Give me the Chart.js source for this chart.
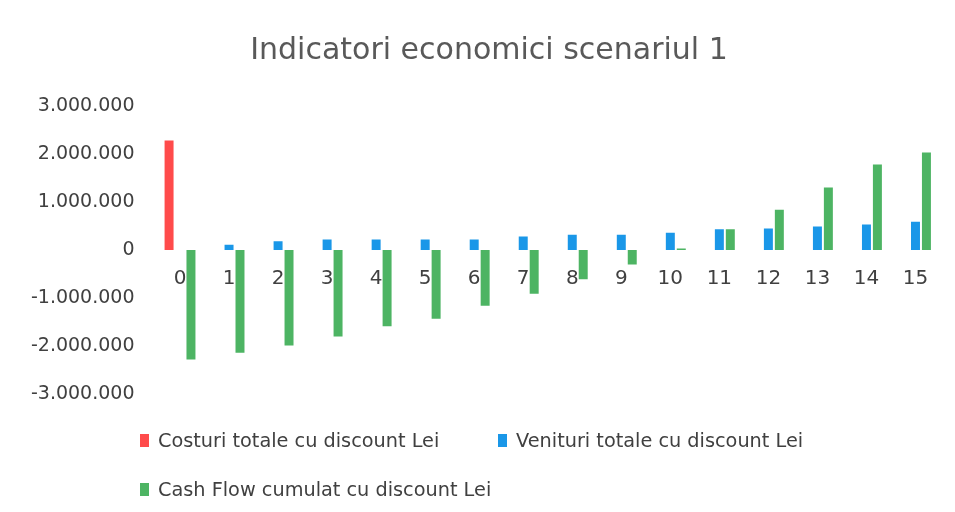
<!DOCTYPE html>
<html>
<head>
<meta charset="utf-8">
<script src="https://cdn.jsdelivr.net/npm/chart.js@4"></script>
<style>
    body { margin: 0; background: #fff; }
    #wrap { position: relative; width: 955px; height: 512px; }
    #legend { position: absolute; left: 0; top: 0; font-family: "DejaVu Sans", sans-serif; font-size: 19.3px; color: #404040; }
    .item { position: absolute; white-space: nowrap; display: flex; align-items: center; }
    .box { width: 9px; height: 13px; margin-right: 9px; }
</style>
</head>
<body>
<div id="wrap">
    <canvas id="chart" width="955" height="512"></canvas>
    <div id="legend"></div>
</div>
<script>
const years = ['0', '1', '2', '3', '4', '5', '6', '7', '8', '9', '10', '11', '12', '13', '14', '15'];
const costuri = [2280000, 0, 0, 0, 0, 0, 0, 0, 0, 0, 0, 0, 0, 0, 0, 0];
const venituri = [0, 110000, 180000, 220000, 220000, 220000, 220000, 280000, 320000, 320000, 360000, 430000, 450000, 490000, 530000, 590000];
const cashFlow = [-2280000, -2140000, -1990000, -1800000, -1590000, -1430000, -1160000, -910000, -610000, -300000, 30000, 430000, 840000, 1300000, 1780000, 2030000];
const seriesNames = ['Costuri totale cu discount Lei', 'Venituri totale cu discount Lei', 'Cash Flow cumulat cu discount Lei'];
const seriesColors = ['#ff4b4b', '#1a97e8', '#4db463'];

// 1234567 -> "1.234.567"
function fmt(v) {
    const s = Math.abs(v).toFixed(0).replace(/\B(?=(\d{3})+(?!\d))/g, '.');
    return (v < 0 ? '-' : '') + s;
}

// title sits a bit right of the canvas centre, over the plot
const titleShift = {
    id: 'titleShift',
    afterLayout: c => { c.titleBlock.left += 28; }
};

const ctx = document.getElementById('chart').getContext('2d');
const chart = new Chart(ctx, {
    type: 'bar',
    data: {
        labels: years,
        datasets: [costuri, venituri, cashFlow].map((d, i) => ({
            label: seriesNames[i],
            data: d,
            backgroundColor: seriesColors[i],
            categoryPercentage: 0.67,
            barPercentage: 0.82
        }))
    },
    options: {
        responsive: false,
        animation: false,
        layout: { padding: { left: 10, right: 15, top: 0, bottom: 118 } },
        plugins: {
            legend: { display: false },
            tooltip: { enabled: false },
            title: {
                display: true,
                text: 'Indicatori economici scenariul 1',
                color: '#595959',
                font: { family: 'DejaVu Sans', size: 30, weight: 'normal' },
                padding: { top: 33.5, bottom: 36.5 }
            }
        },
        scales: {
            x: {
                position: { y: 0 },
                grid: { display: false, drawTicks: false },
                border: { display: false },
                ticks: {
                    color: '#404040',
                    font: { family: 'DejaVu Sans', size: 20 },
                    padding: 16.5,
                    maxRotation: 0
                }
            },
            y: {
                min: -3000000,
                max: 3000000,
                grid: { display: false, drawTicks: false },
                border: { display: false },
                afterFit: scale => { scale.width = 145.5; },
                ticks: {
                    stepSize: 1000000,
                    color: '#404040',
                    font: { family: 'DejaVu Sans', size: 19 },
                    padding: 21,
                    callback: v => fmt(v)
                }
            }
        }
    },
    plugins: [titleShift]
});

// legend laid out in two rows under the plot
const legendPos = [[140, 441], [498, 441], [140, 490]];
const legend = document.getElementById('legend');
chart.data.datasets.forEach((ds, i) => {
    const el = document.createElement('div');
    el.className = 'item';
    el.style.left = legendPos[i][0] + 'px';
    el.style.top = (legendPos[i][1] - 12) + 'px';
    el.innerHTML = '<span class="box" style="background:' + ds.backgroundColor + '"></span>' + ds.label;
    legend.appendChild(el);
});
</script>
</body>
</html>
